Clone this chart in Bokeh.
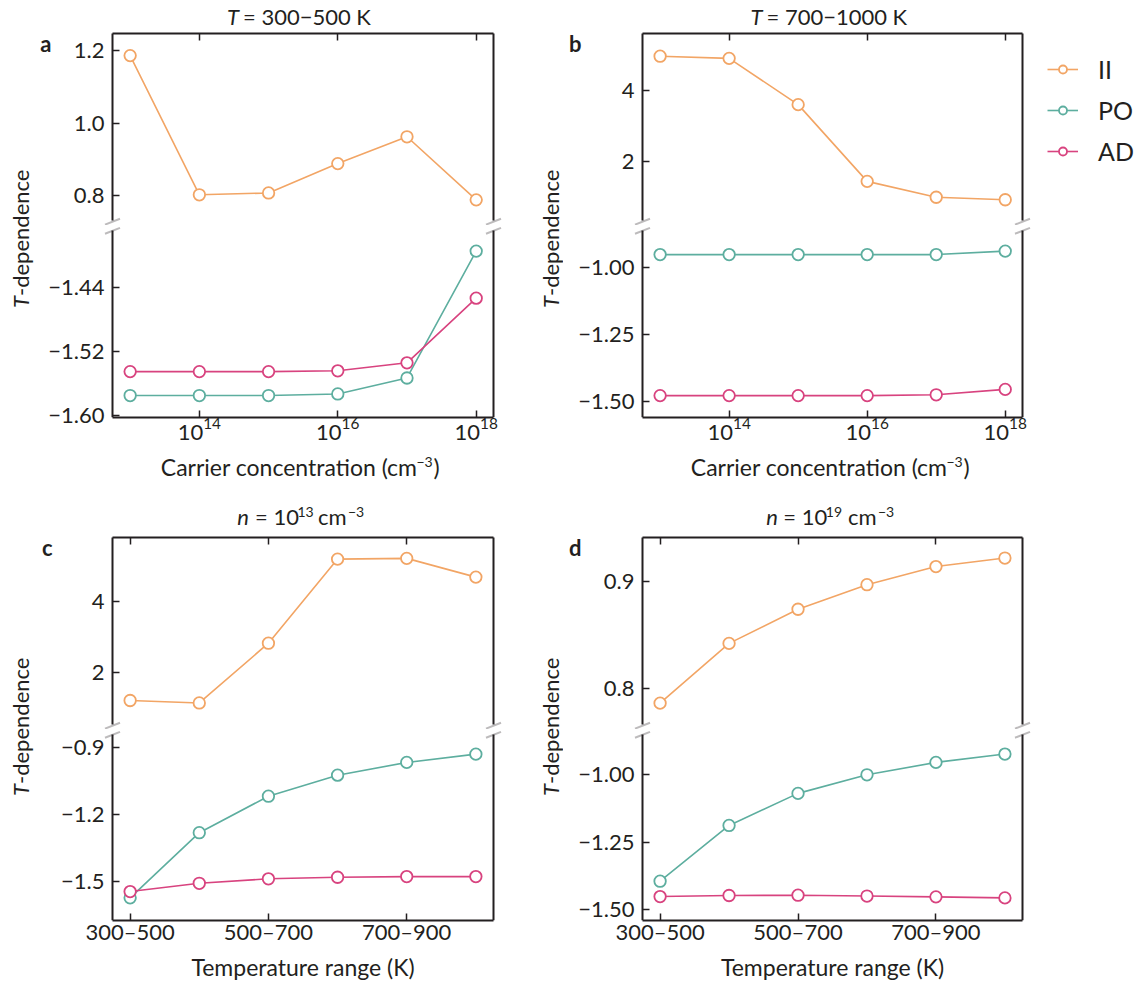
import math
from bokeh.plotting import figure
from bokeh.layouts import row, column
from bokeh.models import (Range1d, LinearAxis, LogAxis, FixedTicker, LogTickFormatter,
                          Label, Legend, LegendItem, PolyAnnotation)
from bokeh.embed import file_html
from bokeh.resources import INLINE

# ---------------- data ----------------
carrier_conc = [1e13, 1e14, 1e15, 1e16, 1e17, 1e18]
conc_ticks = [1e14, 1e16, 1e18]
temp_ranges = ["300–500", "400–600", "500–700", "600–800", "700–900", "800–1000"]
temp_ticks = ["300–500", "500–700", "700–900"]
series_names = ["II", "PO", "AD"]

# panel a: T = 300-500 K vs carrier concentration
II_a = [1.186, 0.802, 0.807, 0.888, 0.962, 0.788]
PO_a = [-1.575, -1.575, -1.575, -1.573, -1.553, -1.394]
AD_a = [-1.545, -1.545, -1.545, -1.544, -1.534, -1.453]
# panel b: T = 700-1000 K vs carrier concentration
II_b = [4.97, 4.91, 3.60, 1.43, 0.98, 0.91]
PO_b = [-0.953, -0.953, -0.953, -0.953, -0.953, -0.940]
AD_b = [-1.478, -1.478, -1.478, -1.478, -1.475, -1.455]
# panel c: n = 1e13 cm-3 vs temperature range
II_c = [1.20, 1.13, 2.82, 5.20, 5.22, 4.69]
PO_c = [-1.573, -1.282, -1.119, -1.025, -0.968, -0.931]
AD_c = [-1.545, -1.508, -1.488, -1.481, -1.478, -1.478]
# panel d: n = 1e19 cm-3 vs temperature range
II_d = [0.786, 0.842, 0.874, 0.897, 0.914, 0.922]
PO_d = [-1.395, -1.188, -1.069, -1.000, -0.954, -0.923]
AD_d = [-1.452, -1.448, -1.447, -1.450, -1.453, -1.457]

ticks_a_top = [0.8, 1.0, 1.2]
ticks_a_bot = [-1.60, -1.52, -1.44]
ticks_b_top = [2, 4]
ticks_b_bot = [-1.50, -1.25, -1.00]
ticks_c_top = [2, 4]
ticks_c_bot = [-1.5, -1.2, -0.9]
ticks_d_top = [0.8, 0.9]
ticks_d_bot = [-1.50, -1.25, -1.00]

# ---------------- style ----------------
FONT = "Lato"
INK = "#231f20"
COLORS = {"II": "#F2A565", "PO": "#5DAE9F", "AD": "#D8437F"}
TICK_SIZE = "22px"
EXT = 9  # frame extends this many px beyond the side spines (room for break marks)


def fmt(t, d):
    return f"{t:.{d}f}".replace("-", "\u2212")


def base_fig(**kw):
    p = figure(toolbar_location=None, output_backend="svg", outline_line_color=None,
               border_fill_color="white", background_fill_color="white",
               x_axis_location=None, y_axis_location=None, **kw)
    p.grid.visible = False
    return p


class Part:
    """One half (upper or lower) of a broken-axis panel."""

    def __init__(self, spine_x, xvals, log_x, frame_y, ycal, mb):
        self.sxl, self.sxr = spine_x
        self.log_x = log_x
        f = math.log10 if log_x else (lambda v: v)
        self.kx = (f(xvals[1]) - f(xvals[0])) / (self.sxr - self.sxl)
        self.fl = self.sxl - EXT
        self.x0 = f(xvals[0]) - EXT * self.kx
        self.fw = (self.sxr - self.sxl) + 2 * EXT
        (v1, p1), (v2, p2) = ycal
        self.v1, self.p1 = v1, p1
        self.ky = (v1 - v2) / (p2 - p1)
        self.ft, self.fb = frame_y
        self.fh = self.fb - self.ft
        self.p = base_fig(frame_width=self.fw, frame_height=self.fh,
                          x_range=Range1d(self.X(self.fl), self.X(self.fl + self.fw)),
                          y_range=Range1d(self.Y(self.fb), self.Y(self.ft)),
                          x_axis_type="log" if log_x else "linear",
                          min_border_left=mb[0], min_border_right=mb[1],
                          min_border_top=mb[2], min_border_bottom=mb[3])

    def X(self, sx):
        t = self.x0 + (sx - self.fl) * self.kx
        return 10 ** t if self.log_x else t

    def Y(self, sy):
        return self.v1 + (self.p1 - sy) * self.ky

    def slash(self, sx, sy):
        xs = [self.X(sx - 7.5), self.X(sx + 7.5)]
        ys = [self.Y(sy + 2.9), self.Y(sy - 2.9)]
        self.p.add_layout(PolyAnnotation(xs=xs, ys=ys, line_color=INK, line_width=2,
                                         fill_alpha=0))


def style_axis(ax, labels=True, tick_in=7, standoff=8, line=True):
    ax.axis_line_width = 2
    ax.axis_line_color = INK if line else None
    ax.major_tick_in = tick_in
    ax.major_tick_out = 0
    ax.major_tick_line_width = 1.5
    ax.major_tick_line_color = INK if tick_in > 0 else None
    ax.minor_tick_line_color = None
    ax.major_label_text_font = FONT
    ax.major_label_text_color = INK
    if labels:
        ax.major_label_text_font_size = TICK_SIZE
        ax.major_label_standoff = standoff
    else:
        ax.major_label_text_font_size = "1px"
        ax.major_label_text_alpha = 0
        ax.major_label_standoff = 0
    return ax


def draw(p, x, y, color):
    r1 = p.line(x, y, line_color=color, line_width=1.6)
    r2 = p.scatter(x, y, marker="circle", size=11.5, fill_color="white",
                   line_color=color, line_width=1.8)
    return [r1, r2]


def x_axis(log_x, xticks, xover, xspine, **kw):
    if log_x:
        return LogAxis(ticker=FixedTicker(ticks=xticks), formatter=LogTickFormatter(),
                       bounds=xspine, **kw)
    return LinearAxis(ticker=FixedTicker(ticks=xticks), major_label_overrides=xover,
                      bounds=xspine, **kw)


def build_panel(x, log_x, xspine, xticks, xover, spine_x, rowg, top_series, bot_series,
                cal_top, cal_bot, yt_top, dec_top, yt_bot, dec_bot, mbl, letter, letter_y,
                letter_gap):
    (t_frame, t_spine_top, t_spine_end, t_mb), (b_frame, b_spine_start, b_mb) = rowg
    top = Part(spine_x, xspine, log_x, t_frame, cal_top, (mbl, 5, t_mb[0], t_mb[1]))
    bot = Part(spine_x, xspine, log_x, b_frame, cal_bot, (mbl, 5, b_mb[0], b_mb[1]))
    for part, yt, dec, ylo, yhi in ((top, yt_top, dec_top, t_spine_end, t_spine_top),
                                    (bot, yt_bot, dec_bot, b_frame[1], b_spine_start)):
        bounds = (part.Y(ylo), part.Y(yhi))
        # tick labels (axis at the frame edge, no line / ticks)
        lab_ax = LinearAxis(ticker=FixedTicker(ticks=yt),
                            major_label_overrides={t: fmt(t, dec) for t in yt})
        part.p.add_layout(style_axis(lab_ax, tick_in=0, standoff=-1, line=False), "left")
        if part is top:
            ly = top.Y(letter_y)
            let_ax = LinearAxis(ticker=FixedTicker(ticks=[ly]),
                                major_label_overrides={ly: letter})
            style_axis(let_ax, tick_in=0, standoff=letter_gap, line=False)
            let_ax.major_label_text_font_style = "bold"
            top.p.add_layout(let_ax, "left")
        # spines with inward ticks at the true spine positions
        spine_l = LinearAxis(ticker=FixedTicker(ticks=yt), fixed_location=part.X(spine_x[0]),
                             bounds=bounds)
        part.p.add_layout(style_axis(spine_l, labels=False), "left")
        spine_r = LinearAxis(ticker=FixedTicker(ticks=yt), fixed_location=part.X(spine_x[1]),
                             bounds=bounds)
        part.p.add_layout(style_axis(spine_r, labels=False, tick_in=0), "right")
    # x axes: top spine (fixed, ticks only) and bottom axis with labels
    top_ax = x_axis(log_x, xticks, xover, xspine, fixed_location=top.Y(t_spine_top))
    top.p.add_layout(style_axis(top_ax, labels=False), "above")
    bot_ax = x_axis(log_x, xticks, xover, xspine)
    bot.p.add_layout(style_axis(bot_ax, standoff=0 if log_x else -3), "below")
    for name, ys in top_series:
        draw(top.p, x, ys, COLORS[name])
    for name, ys in bot_series:
        draw(bot.p, x, ys, COLORS[name])
    for sx in spine_x:
        top.slash(sx, t_spine_end + 1.2)
        bot.slash(sx, b_spine_start + 0.3)
    return top, bot


def strip(w, h):
    return base_fig(frame_width=w, frame_height=h, x_range=Range1d(0, w),
                    y_range=Range1d(0, h), min_border=0)


def text(p, x, y, s, size=22, style="normal", align="left", angle=0.0, baseline=None):
    # y is the desired alphabetic baseline (strip coords, upward); anchor at text middle
    if baseline is None:
        y = y + 0.387 * size
        tb = "middle"
    else:
        tb = baseline
    p.add_layout(Label(x=x, y=y, text=s, text_font=FONT, text_font_size=f"{size}px",
                       text_font_style=style, text_align=align, angle=angle,
                       text_baseline=tb, text_color=INK))


def ylabel(p, x, y):
    text(p, x, y, "T", style="italic", align="right", angle=math.pi / 2, baseline="alphabetic")
    text(p, x, y, "-dependence", align="left", angle=math.pi / 2, baseline="alphabetic")


# ---------------- geometry (screen px) ----------------
W = 1135
SP_L = (112, 493)
SP_R = (642, 1022)
ROW1 = (((29, 225), 33, 220, (0, 0)), ((225, 417), 230, (0, 36)))
ROW2 = (((533, 729), 537, 724, (0, 0)), ((729, 920), 734, (0, 32)))
log_spine = (10 ** 12.745, 10 ** 18.25)
temp_x = list(range(len(temp_ranges)))
temp_tick_pos = [temp_ranges.index(t) for t in temp_ticks]
temp_over = {temp_ranges.index(t): t for t in temp_ticks}
temp_spine = (-0.255, 5.255)

ta, ba = build_panel(carrier_conc, True, log_spine, conc_ticks, {}, SP_L, ROW1,
                     [("II", II_a)], [("PO", PO_a), ("AD", AD_a)],
                     ((1.2, 50), (0.8, 195)), ((-1.44, 287.3), (-1.60, 415)),
                     ticks_a_top, 1, ticks_a_bot, 2, 69, "a", 42, 19)
tb, bb = build_panel(carrier_conc, True, log_spine, conc_ticks, {}, SP_R, ROW1,
                     [("II", II_b)], [("PO", PO_b), ("AD", AD_b)],
                     ((4, 90), (2, 160.7)), ((-1.00, 266.7), (-1.50, 401)),
                     ticks_b_top, 0, ticks_b_bot, 2, 70, "b", 42, 37)
tc, bc = build_panel(temp_x, False, temp_spine, temp_tick_pos, temp_over, SP_L, ROW2,
                     [("II", II_c)], [("PO", PO_c), ("AD", AD_c)],
                     ((4, 601), (2, 671.7)), ((-0.9, 746.7), (-1.5, 881)),
                     ticks_c_top, 0, ticks_c_bot, 1, 69, "c", 546, 36)
td, bd = build_panel(temp_x, False, temp_spine, temp_tick_pos, temp_over, SP_R, ROW2,
                     [("II", II_d)], [("PO", PO_d), ("AD", AD_d)],
                     ((0.9, 581), (0.8, 687.7)), ((-1.00, 774.3), (-1.50, 909)),
                     ticks_d_top, 1, ticks_d_bot, 2, 70, "d", 546, 19)

# ---------------- legend (own figure, series drawn outside its visible ranges) ----------------
leg = base_fig(frame_width=99, frame_height=410, x_range=Range1d(0, 1), y_range=Range1d(0, 1),
               min_border_left=0, min_border_right=0, min_border_top=14, min_border_bottom=0)
leg_items = []
for name, ys in (("II", II_b), ("PO", PO_b), ("AD", AD_b)):
    leg_items.append(LegendItem(label=name, renderers=draw(leg, carrier_conc, ys, COLORS[name])))
leg.add_layout(Legend(items=leg_items, location="top_left", label_text_font=FONT,
                      label_text_font_size="25px", label_text_color=INK, glyph_width=31,
                      glyph_height=20, label_standoff=20, spacing=11, padding=0, margin=11,
                      border_line_alpha=0, background_fill_alpha=0))

# ---------------- title strips (y given as baseline, measured upward) ----------------
title1 = strip(W, 29)
for t_end, rest_start, rest in ((238.5, 242.5, "= 300\u2212500 K"),
                                (762, 766, "= 700\u22121000 K")):
    text(title1, t_end, 29 - 24.5, "T", style="italic", align="right")
    text(title1, rest_start, 29 - 24.5, rest)

title2 = strip(W, 43)
for n_end, eq, sup_x, cm_x, e_x, sup in ((248.5, 254.5, 297, 317.5, 347.5, "13"),
                                         (777.5, 782.8, 825.3, 847.5, 877.5, "19")):
    text(title2, n_end, 533 - 525, "n", style="italic", align="right")
    text(title2, eq, 533 - 525, "= 10")
    text(title2, sup_x, 533 - 516.5, sup, size=14)
    text(title2, cm_x, 533 - 525, "cm")
    text(title2, e_x, 533 - 516.5, "\u22123", size=14)

# ---------------- x-label strips ----------------
xlab1 = strip(W, 37)
for end in (417, 947):
    text(xlab1, end, 490 - 475.5, "Carrier concentration (cm", size=23, align="right")
    text(xlab1, end - 1, 490 - 467, "\u22123", size=14)
    text(xlab1, end + 16, 490 - 475.5, ")", size=23)
xlab2 = strip(W, 30)
text(xlab2, 302.5, 982 - 975, "Temperature range (K)", size=23, align="center")
text(xlab2, 832, 982 - 975, "Temperature range (K)", size=23, align="center")

# ---------------- y-label strips ----------------
lab_a = strip(34, 424)
lab_b = strip(56, 424)
lab_c = strip(34, 419)
lab_d = strip(56, 419)
ylabel(lab_a, 19.8, 453 - 281.5)
ylabel(lab_b, 42.8, 453 - 281.5)
ylabel(lab_c, 19.8, 952 - 783.5)
ylabel(lab_d, 42.8, 952 - 783.5)

row1 = row(lab_a, column(ta.p, ba.p), lab_b, column(tb.p, bb.p), leg)
row2 = row(lab_c, column(tc.p, bc.p), lab_d, column(td.p, bd.p))
layout = column(title1, row1, xlab1, title2, row2, xlab2)

open("out.html", "w").write(file_html(layout, INLINE, title="T-dependence"))
